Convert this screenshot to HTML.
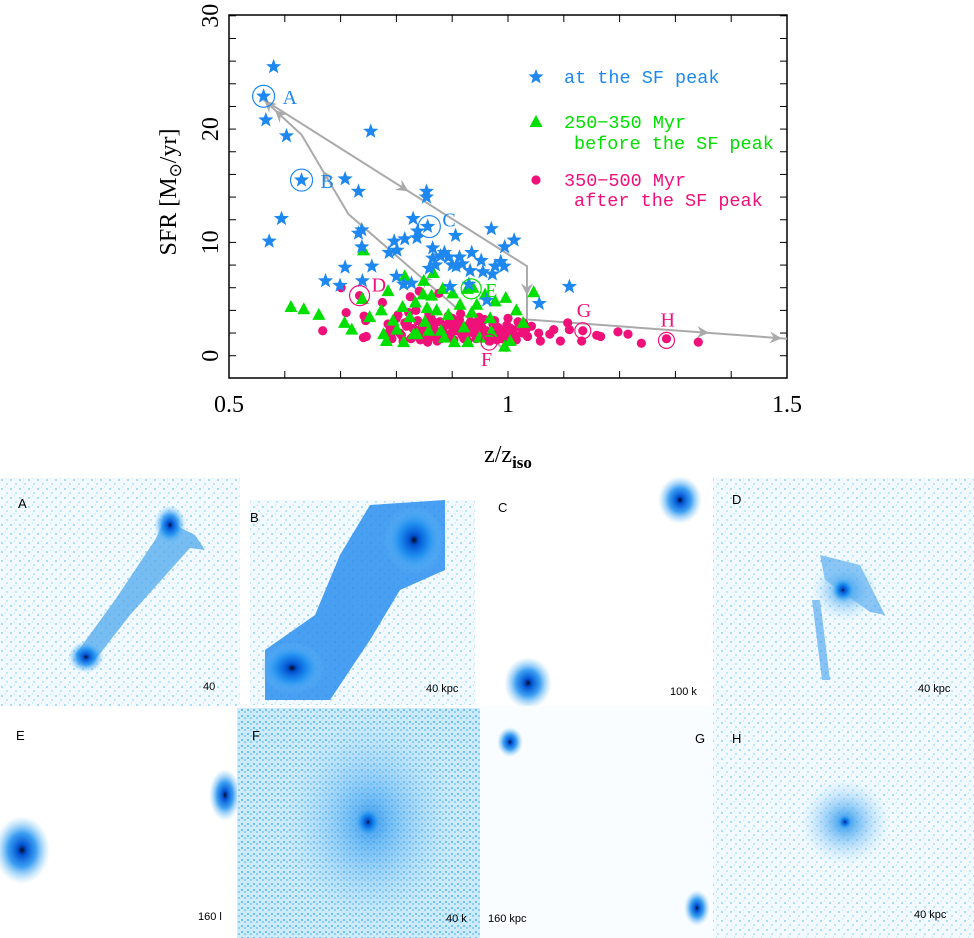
<!DOCTYPE html>
<html><head><meta charset="utf-8"><style>
body{margin:0;background:#fff;width:974px;height:938px;overflow:hidden;font-family:"Liberation Serif",serif}
svg{position:absolute;left:0;top:0}
</style></head><body>
<svg id="fig" width="974" height="938" xmlns="http://www.w3.org/2000/svg">
<defs>
<radialGradient id="gal" cx="50%" cy="50%" r="50%"><stop offset="0" stop-color="#000820"/><stop offset="0.15" stop-color="#0050d0"/><stop offset="0.5" stop-color="#1a8ef0" stop-opacity="0.85"/><stop offset="1" stop-color="#7cc8f5" stop-opacity="0"/></radialGradient>
<radialGradient id="halo" cx="50%" cy="50%" r="50%"><stop offset="0" stop-color="#1a80e8"/><stop offset="0.2" stop-color="#45a5f0" stop-opacity="0.8"/><stop offset="1" stop-color="#b8e2fa" stop-opacity="0"/></radialGradient>
<pattern id="speck" width="9" height="9" patternUnits="userSpaceOnUse"><rect width="9" height="9" fill="#f3faff"/><rect x="1" y="2" width="2" height="2" fill="#a8dcf7"/><rect x="6" y="6" width="2" height="2" fill="#bfe6fa"/><rect x="5" y="0" width="1" height="2" fill="#cdeefc"/></pattern>
<pattern id="speck2" width="6" height="6" patternUnits="userSpaceOnUse"><rect width="6" height="6" fill="#cdebfb"/><rect x="1" y="1" width="2" height="2" fill="#6fc0f2"/><rect x="4" y="3" width="2" height="2" fill="#8bd0f4"/></pattern>
</defs>
<g id="panels">
 <g>
  <rect x="0" y="478" width="240" height="228" fill="url(#speck)"/>
  <path d="M165 520 L195 535 L205 550 L190 548 L130 615 L95 660 L75 655 L115 600 L155 540 Z" fill="#4fa8ee" opacity="0.75"/>
  <ellipse cx="170" cy="525" rx="16" ry="20" fill="url(#gal)"/>
  <ellipse cx="86" cy="657" rx="18" ry="16" fill="url(#gal)"/>
  <text x="18" y="508" font-family="Liberation Sans,sans-serif" font-size="13">A</text>
  <text x="203" y="690" font-family="Liberation Sans,sans-serif" font-size="11">40 </text>
 </g>
 <g>
  <rect x="240" y="478" width="240" height="228" fill="#fff"/>
  <rect x="250" y="500" width="225" height="205" fill="url(#speck)"/>
  <path d="M370 505 L445 500 L445 570 L400 590 L370 640 L330 700 L265 700 L265 650 L315 615 L340 555 Z" fill="#2a8ef0" opacity="0.85"/>
  <ellipse cx="414" cy="540" rx="30" ry="34" fill="url(#gal)"/>
  <ellipse cx="292" cy="668" rx="32" ry="26" fill="url(#gal)"/>
  <text x="250" y="522" font-family="Liberation Sans,sans-serif" font-size="13">B</text>
  <text x="426" y="692" font-family="Liberation Sans,sans-serif" font-size="11">40 kpc</text>
 </g>
 <g>
  <rect x="480" y="478" width="233" height="228" fill="#fff"/>
  <ellipse cx="680" cy="500" rx="22" ry="24" fill="url(#gal)"/>
  <ellipse cx="528" cy="683" rx="24" ry="26" fill="url(#gal)"/>
  <text x="498" y="512" font-family="Liberation Sans,sans-serif" font-size="13">C</text>
  <text x="670" y="695" font-family="Liberation Sans,sans-serif" font-size="11">100 k</text>
 </g>
 <g>
  <rect x="713" y="478" width="261" height="228" fill="url(#speck)"/>
  <path d="M820 555 L860 565 L885 615 L870 612 L825 580 Z M820 600 L830 680 L822 680 L812 600 Z" fill="#3f9eec" opacity="0.6"/>
  <ellipse cx="845" cy="590" rx="34" ry="32" fill="url(#halo)"/>
  <ellipse cx="843" cy="590" rx="12" ry="13" fill="url(#gal)"/>
  <text x="732" y="504" font-family="Liberation Sans,sans-serif" font-size="13">D</text>
  <text x="918" y="692" font-family="Liberation Sans,sans-serif" font-size="11">40 kpc</text>
 </g>
 <g>
  <rect x="0" y="706" width="235" height="232" fill="#fff"/>
  <ellipse cx="22" cy="850" rx="28" ry="34" fill="url(#gal)"/>
  <ellipse cx="225" cy="795" rx="16" ry="26" fill="url(#gal)"/>
  <text x="16" y="740" font-family="Liberation Sans,sans-serif" font-size="13">E</text>
  <text x="198" y="920" font-family="Liberation Sans,sans-serif" font-size="11">160 l</text>
 </g>
 <g>
  <rect x="237" y="708" width="243" height="230" fill="url(#speck2)"/>
  <ellipse cx="370" cy="822" rx="90" ry="110" fill="url(#halo)" opacity="0.85"/>
  <ellipse cx="368" cy="822" rx="14" ry="16" fill="url(#gal)"/>
  <text x="252" y="740" font-family="Liberation Sans,sans-serif" font-size="13">F</text>
  <text x="446" y="922" font-family="Liberation Sans,sans-serif" font-size="11">40 k</text>
 </g>
 <g>
  <rect x="480" y="706" width="233" height="232" fill="#fafdff"/>
  <ellipse cx="510" cy="742" rx="13" ry="15" fill="url(#gal)"/>
  <ellipse cx="697" cy="908" rx="13" ry="18" fill="url(#gal)"/>
  <text x="695" y="743" font-family="Liberation Sans,sans-serif" font-size="13">G</text>
  <text x="488" y="922" font-family="Liberation Sans,sans-serif" font-size="11">160 kpc</text>
 </g>
 <g>
  <rect x="713" y="708" width="261" height="230" fill="url(#speck)"/>
  <ellipse cx="845" cy="822" rx="46" ry="44" fill="url(#halo)"/>
  <ellipse cx="845" cy="822" rx="8" ry="8" fill="url(#gal)"/>
  <text x="732" y="743" font-family="Liberation Sans,sans-serif" font-size="13">H</text>
  <text x="914" y="918" font-family="Liberation Sans,sans-serif" font-size="11">40 kpc</text>
 </g>
</g>
<rect x="229" y="15" width="558" height="363" fill="none" stroke="#000" stroke-width="1.5"/>
<g id="axes"></g>
<g id="arrows"></g>
<g id="marks"></g>
<g id="labels"></g>
<g id="legend" font-family="Liberation Mono,monospace" font-size="18.5">
 <text x="564" y="83" fill="#1e88f0">at the SF peak</text>
 <text x="564" y="128" fill="#00e000">250−350 Myr</text>
 <text x="574" y="149" fill="#00e000">before the SF peak</text>
 <text x="564" y="186" fill="#f0107a">350−500 Myr</text>
 <text x="574" y="206" fill="#f0107a">after the SF peak</text>
</g>
<text x="508" y="462" text-anchor="middle" font-size="24">z/z<tspan font-size="17" dy="6" font-weight="bold">iso</tspan></text>
<text transform="translate(176,192) rotate(-90)" text-anchor="middle" font-size="24">SFR [M<tspan font-size="17" dy="5">⊙</tspan><tspan dy="-5">/yr]</tspan></text>
</svg>
<script>
const xTicks=[0.5,1,1.5];
const yTicks=[0,10,20,30];
const peakX=[0.580,0.562,0.566,0.603,0.754,0.630,0.708,0.732,0.594,0.572,0.854,0.854,0.856,0.830,0.838,0.837,0.738,0.732,0.738,0.796,0.815,0.801,0.787,0.906,0.970,1.011,0.994,0.673,0.708,0.699,0.756,0.739,0.800,0.813,0.827,0.865,0.879,0.870,0.893,0.886,0.913,0.918,0.935,0.952,0.932,0.907,0.896,0.955,0.977,0.987,0.972,0.993,1.110,1.056,0.962,0.930,0.865,0.859,0.900];
const peakY=[25.5,22.9,20.8,19.4,19.8,15.5,15.6,14.5,12.1,10.1,14.5,14.0,11.4,12.1,11.0,10.4,11.1,10.8,9.6,10.1,10.3,9.3,9.1,10.6,11.2,10.2,9.6,6.6,7.8,6.2,7.9,6.6,7.0,6.3,6.4,9.5,8.8,8.0,8.7,9.1,8.7,8.1,9.1,8.4,7.5,7.9,6.1,7.4,7.9,8.3,7.2,7.9,6.1,4.6,4.9,6.3,8.6,7.7,8.0];
const befX=[0.611,0.634,0.661,0.707,0.720,0.741,0.739,0.785,0.815,0.849,0.866,0.848,0.834,0.863,0.883,0.901,0.927,0.937,0.959,0.977,0.996,1.046,1.015,0.773,0.794,0.811,0.824,0.801,0.831,0.851,0.872,0.893,0.914,0.935,0.944,0.777,0.813,0.837,0.858,0.886,0.921,0.949,0.970,0.994,1.004,1.027,0.752,0.782,0.904,0.928,0.855,0.880,0.968];
const befY=[4.3,4.1,3.6,2.9,2.3,9.3,5.0,5.7,7.0,6.6,7.3,5.4,4.7,5.3,5.9,5.5,5.9,6.0,5.4,4.8,5.1,5.6,4.0,4.0,3.1,4.3,3.4,2.3,1.9,3.0,4.0,3.6,4.5,3.8,4.5,1.9,1.2,1.9,2.2,1.6,2.5,1.6,2.1,0.8,1.3,2.9,3.4,1.3,1.2,1.2,4.2,2.2,3.3];
const aftX=[0.668,0.701,0.710,0.742,0.745,0.741,0.746,0.775,0.825,0.841,0.876,1.075,1.082,1.094,1.107,1.110,1.134,1.132,1.159,1.166,1.197,1.215,1.239,1.284,1.341,1.058,1.055,1.032,1.042,1.035,0.734,0.966,
0.785,0.792,0.800,0.806,0.812,0.818,0.822,0.828,0.833,0.838,0.843,0.848,0.853,0.858,0.863,0.868,0.873,0.878,0.883,0.888,0.893,0.898,0.903,0.908,0.913,0.918,0.923,0.928,0.933,0.938,0.943,0.948,0.953,0.958,0.963,0.968,0.973,0.978,0.983,0.988,0.993,0.998,1.003,1.008,1.013,1.018,1.022,1.026,
0.790,0.803,0.815,0.826,0.841,0.852,0.866,0.874,0.886,0.897,0.910,0.921,0.934,0.946,0.958,0.971,0.985,0.996,1.010,1.020,0.796,0.820,0.846,0.871,0.900,0.926,0.952,0.980,1.005,1.030,0.835,0.862,0.892,0.915,0.944,0.976,
0.788,0.809,0.830,0.850,0.869,0.880,0.894,0.905,0.917,0.930,0.941,0.955,0.966,0.982,0.991,1.000,1.015,1.028,0.856,0.876,0.898,0.912,0.940,0.961];
const aftY=[2.2,6.0,3.8,3.5,3.1,1.6,1.7,4.7,5.2,5.7,5.5,1.9,2.3,1.3,2.9,2.3,2.2,1.3,1.8,1.7,2.1,1.9,1.1,1.5,1.2,1.3,2.0,2.3,2.6,1.7,5.3,1.3,
2.8,1.5,3.3,2.0,1.3,2.6,3.8,1.6,2.3,3.1,1.4,2.0,2.9,3.7,1.7,2.4,1.3,3.0,2.1,1.6,3.5,2.7,1.4,2.2,3.2,1.8,2.6,1.3,3.0,2.0,1.5,3.4,2.5,1.7,2.1,1.3,2.8,1.9,2.4,1.5,2.1,2.7,1.6,2.2,1.8,3.0,2.5,2.0,
1.9,3.6,2.9,1.5,1.8,2.7,3.0,1.9,2.6,1.9,2.9,1.5,2.4,1.9,3.2,1.6,2.3,1.4,1.6,2.6,2.3,3.0,2.5,1.7,3.3,1.9,2.2,1.4,2.4,2.0,4.0,3.3,2.8,3.7,2.9,3.1,
2.2,1.8,2.4,1.5,2.0,1.5,1.8,2.3,1.9,2.2,2.7,1.9,1.6,2.5,1.8,3.3,1.4,2.9,1.2,1.8,2.0,2.6,2.9,2.2];
const path1X=[0.562,1.034,1.034,1.5];
const path1Y=[22.6,7.9,3.2,1.5];
const path2X=[0.998,0.714,0.630,0.562];
const path2Y=[0.35,12.5,19.5,22.6];
const circLbl=["A","B","C","D","E","F","G","H"];
const circX=[0.562,0.630,0.859,0.734,0.934,0.966,1.134,1.284];
const circY=[22.9,15.5,11.4,5.3,5.9,1.2,2.2,1.35];
const circR=[11,11,11,10,10,8,8,8];

const NS="http://www.w3.org/2000/svg";
const X=v=>229+(v-0.5)*558;
const Y=v=>355.7-v*11.33;
function mk(tag,attrs,parent){const e=document.createElementNS(NS,tag);for(const k in attrs)e.setAttribute(k,attrs[k]);parent.appendChild(e);return e;}
const axes=document.getElementById('axes');
for(let v=0.6;v<1.5;v+=0.1){const x=X(v);mk('line',{x1:x,y1:378,x2:x,y2:371,stroke:'#000'},axes);mk('line',{x1:x,y1:15,x2:x,y2:22,stroke:'#000'},axes);}
for(let v=0;v<=30;v+=2){const y=Y(v);mk('line',{x1:229,y1:y,x2:236,y2:y,stroke:'#000'},axes);mk('line',{x1:787,y1:y,x2:780,y2:y,stroke:'#000'},axes);}
xTicks.forEach(v=>{const t=mk('text',{x:X(v),y:412,'text-anchor':'middle','font-size':'24'},axes);t.textContent=String(v);

});
yTicks.forEach(v=>{const t=mk('text',{transform:`translate(218,${Y(v)}) rotate(-90)`,'text-anchor':'middle','font-size':'24'},axes);t.textContent=String(v);

});
const ar=document.getElementById('arrows');
function drawPath(xs,ys,name){
 const pts=xs.map((x,i)=>X(x)+','+Y(ys[i])).join(' ');
 const p=mk('polyline',{points:pts,fill:'none',stroke:'#aaa','stroke-width':'2'},ar);
 
 
 for(let i=0;i<xs.length-1;i++){
  const x1=X(xs[i]),y1=Y(ys[i]),x2=X(xs[i+1]),y2=Y(ys[i+1]);
  const fr=i===xs.length-2?[0.7,0.98]:[0.55];
  fr.forEach(f=>{const mx=x1+(x2-x1)*f,my=y1+(y2-y1)*f,a=Math.atan2(y2-y1,x2-x1)*180/Math.PI;
   mk('path',{d:'M0,0 L-12,-6 L-8,0 L-12,6 Z',fill:'#aaa',transform:`translate(${mx},${my}) rotate(${a})`},ar);});
 }
}
drawPath(path1X,path1Y,'track-line-1');
drawPath(path2X,path2Y,'track-line-2');
const marks=document.getElementById('marks');
function star(cx,cy,r){let d='';for(let i=0;i<10;i++){const rr=i%2?r*0.42:r,a=-Math.PI/2+i*Math.PI/5;d+=(i?'L':'M')+(cx+rr*Math.cos(a)).toFixed(1)+','+(cy+rr*Math.sin(a)).toFixed(1);}return d+'Z';}
aftX.forEach((x,i)=>{const c=mk('circle',{cx:X(x),cy:Y(aftY[i]),r:4.6,fill:'#f0107a'},marks);

});
befX.forEach((x,i)=>{const cx=X(x),cy=Y(befY[i]);const t=mk('path',{d:`M${cx},${cy-7} L${cx+6.5},${cy+5} L${cx-6.5},${cy+5} Z`,fill:'#00e000'},marks);

});
peakX.forEach((x,i)=>{const s=mk('path',{d:star(X(x),Y(peakY[i]),8),fill:'#1e88f0'},marks);

});
const lg=document.getElementById('legend');
const ls=mk('path',{d:star(536,77,8),fill:'#1e88f0'},lg);


const lt=mk('path',{d:'M536,115 L542.5,127 L529.5,127 Z',fill:'#00e000'},lg);


const lc=mk('circle',{cx:536,cy:180,r:4.6,fill:'#f0107a'},lg);


const lab=document.getElementById('labels');
const cols={A:'#1e88f0',B:'#1e88f0',C:'#1e88f0',D:'#f0107a',E:'#00e000',F:'#f0107a',G:'#f0107a',H:'#f0107a'};
const off={A:[16,8],B:[16,8],C:[10,0],D:[10,-4],E:[12,8],F:[-8,24],G:[-6,-14],H:[-6,-14]};
circLbl.forEach((l,i)=>{const cx=X(circX[i]),cy=Y(circY[i]);
 const c=mk('circle',{cx:cx,cy:cy,r:circR[i],fill:'none',stroke:cols[l],'stroke-width':'1.2'},lab);
 
 
 const t=mk('text',{x:cx+circR[i]+off[l][0]-8,y:cy+off[l][1],fill:cols[l],'font-size':'20'},lab);t.textContent=l;
 
 });
</script>
</body></html>
